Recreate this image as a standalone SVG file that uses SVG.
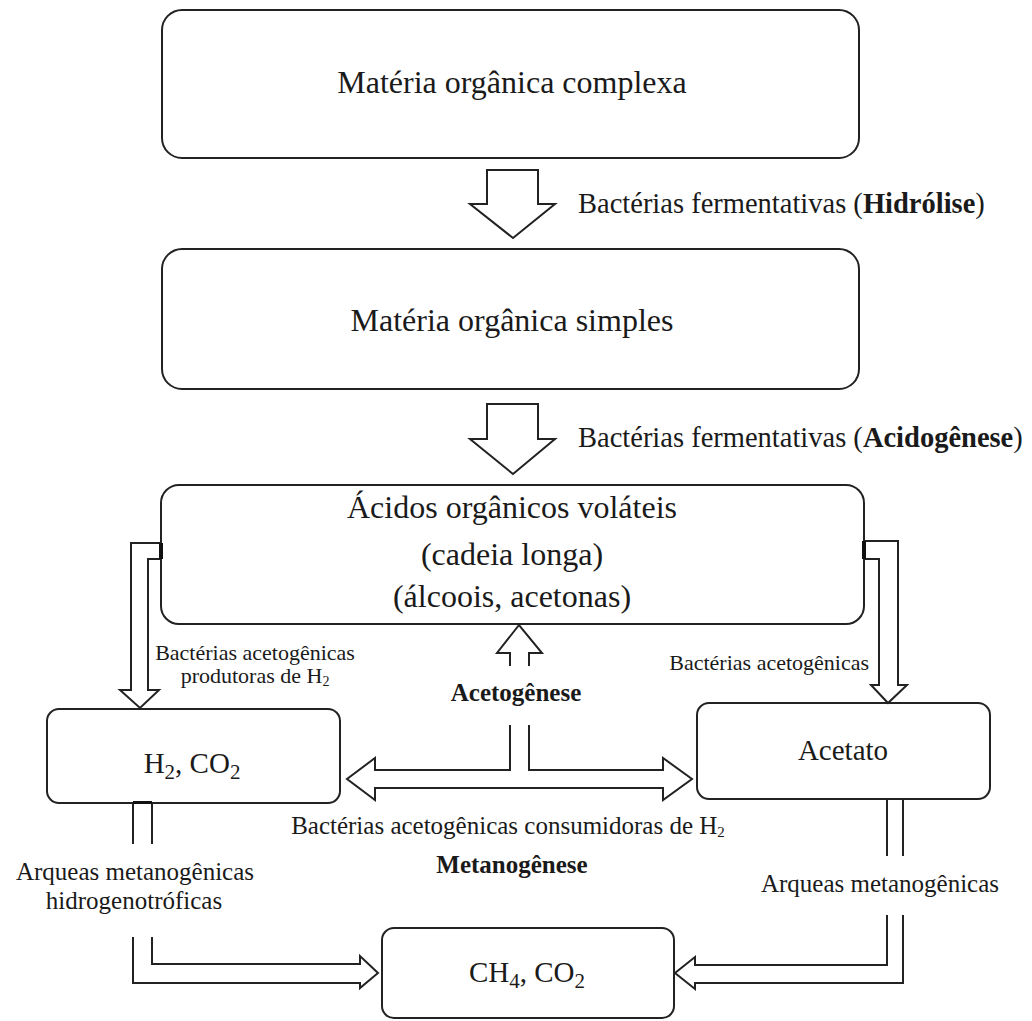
<svg xmlns="http://www.w3.org/2000/svg" width="1032" height="1021" viewBox="0 0 1032 1021">
<style>
.box{fill:#fff;stroke:#222;stroke-width:2}
.con{fill:none;stroke:#222;stroke-width:2;stroke-linejoin:miter}
.bar{fill:#111}
text{font-family:"Liberation Serif","Times New Roman",serif;fill:#1a1a1a}
.big{font-size:32px}
.mid{font-size:29px}
.lbl{font-size:28.5px}
.sm{font-size:25px}
.xs{font-size:22px}
.b{font-weight:bold}
</style>
<rect width="1032" height="1021" fill="#fff"/>
<g id="n1"><rect class="box" x="162" y="10" width="697" height="148" rx="20"/>
<text class="big" x="512" y="93" text-anchor="middle">Matéria orgânica complexa</text></g>
<g id="n2"><rect class="box" x="162" y="249" width="697" height="140" rx="20"/>
<text class="big" x="512" y="331" text-anchor="middle">Matéria orgânica simples</text></g>
<g id="n3"><rect class="box" x="161" y="485" width="703" height="139" rx="18"/>
<text class="big" x="512" y="518" text-anchor="middle">Ácidos orgânicos voláteis</text>
<text class="big" x="512" y="565" text-anchor="middle">(cadeia longa)</text>
<text class="big" x="512" y="607" text-anchor="middle">(álcoois, acetonas)</text></g>
<g id="n4"><rect class="box" x="47" y="709" width="293" height="94" rx="12"/>
<text class="mid" x="192" y="773" text-anchor="middle">H<tspan font-size="21" dy="6">2</tspan><tspan dy="-6">, CO</tspan><tspan font-size="21" dy="6">2</tspan></text></g>
<g id="n5"><rect class="box" x="697" y="703" width="293" height="96" rx="12"/>
<text class="mid" x="843" y="760" text-anchor="middle">Acetato</text></g>
<g id="n6"><rect class="box" x="382" y="928" width="292" height="90" rx="12"/>
<text class="mid" x="527" y="982" text-anchor="middle">CH<tspan font-size="21" dy="6">4</tspan><tspan dy="-6">, CO</tspan><tspan font-size="21" dy="6">2</tspan></text></g>
<g id="connectors">
<polygon class="con" points="487,170 538,170 538,204 555,204 513,238 470,204 487,204"/>
<polygon class="con" points="487,404 538,404 538,439 555,439 513,474 470,439 487,439"/>
<polyline class="con" points="161,543 131,543 131,690 120,690 140,708 159,690 148,690 148,559 161,559"/>
<rect class="bar" x="159" y="543" width="4" height="16"/>
<polyline class="con" points="864,541 898,541 898,685 907,685 888,703 871,685 879,685 879,559 864,559"/>
<rect class="bar" x="862" y="541" width="4" height="18"/>
<polyline class="con" points="510,666 510,653 497,653 519,625 542,653 529,653 529,666"/>
<polyline class="con" points="510,725 510,770 375,770 375,758 347,779 375,800 375,788 663,788 663,800 692,779 663,758 663,770 529,770 529,725"/>
<line class="con" x1="133" y1="803" x2="133" y2="844"/>
<line class="con" x1="152" y1="803" x2="152" y2="844"/>
<rect class="bar" x="133" y="801" width="19" height="3"/>
<polyline class="con" points="133,937 133,983 360,983 360,988 378,973 360,956 360,964 152,964 152,937"/>
<line class="con" x1="887" y1="799" x2="887" y2="856"/>
<line class="con" x1="903" y1="799" x2="903" y2="856"/>
<polyline class="con" points="887,915 887,965 695,965 695,957 675,973 695,989 695,983 903,983 903,915"/>
</g>
<g id="labels">
<text class="lbl" x="578" y="213">Bactérias fermentativas (<tspan class="b">Hidrólise</tspan>)</text>
<text class="lbl" x="578" y="447">Bactérias fermentativas (<tspan class="b">Acidogênese</tspan>)</text>
<text class="xs" x="255" y="660" text-anchor="middle">Bactérias acetogênicas</text>
<text class="xs" x="255" y="683" text-anchor="middle">produtoras de H<tspan font-size="14" dy="3">2</tspan></text>
<text class="xs" x="869" y="670" text-anchor="end">Bactérias acetogênicas</text>
<text class="sm b" x="516" y="701" text-anchor="middle">Acetogênese</text>
<text class="sm" x="508" y="834" text-anchor="middle" font-size="24.5">Bactérias acetogênicas consumidoras de H<tspan font-size="15" dy="3">2</tspan></text>
<text class="sm b" x="512" y="873" text-anchor="middle">Metanogênese</text>
<text class="sm" x="135" y="880" text-anchor="middle">Arqueas metanogênicas</text>
<text class="sm" x="134" y="909" text-anchor="middle">hidrogenotróficas</text>
<text class="sm" x="880" y="892" text-anchor="middle">Arqueas metanogênicas</text>
</g>
</svg>
